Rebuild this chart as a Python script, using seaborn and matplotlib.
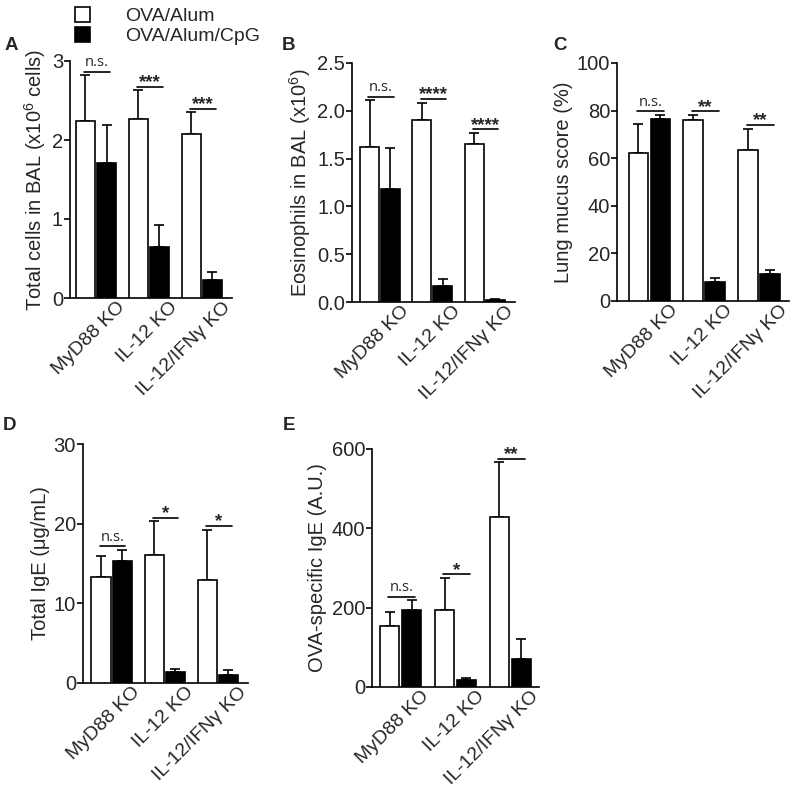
import matplotlib
matplotlib.use("Agg")
import matplotlib.pyplot as plt
import numpy as np
import pandas as pd
import seaborn as sns
from matplotlib.patches import Patch
from matplotlib.transforms import ScaledTranslation

genotypes = ["MyD88 KO", "IL-12 KO", "IL-12/IFN\u03b3 KO"]
treatments = ["OVA/Alum", "OVA/Alum/CpG"]

# means (white, black) and upper SEM per genotype
total_alum = [2.24, 2.26, 2.08]
total_alum_err = [0.58, 0.37, 0.27]
total_cpg = [1.71, 0.65, 0.23]
total_cpg_err = [0.48, 0.28, 0.10]

eos_alum = [1.625, 1.907, 1.656]
eos_alum_err = [0.485, 0.178, 0.112]
eos_cpg = [1.185, 0.171, 0.024]
eos_cpg_err = [0.422, 0.069, 0.006]

mucus_alum = [62.0, 76.2, 63.4]
mucus_alum_err = [12.3, 2.0, 9.0]
mucus_cpg = [76.5, 8.1, 11.3]
mucus_cpg_err = [1.8, 1.7, 1.8]

ige_alum = [13.26, 16.07, 12.89]
ige_alum_err = [2.64, 4.23, 6.36]
ige_cpg = [15.27, 1.34, 1.05]
ige_cpg_err = [1.47, 0.38, 0.62]

ova_alum = [154.6, 194.0, 428.0]
ova_alum_err = [33.4, 81.0, 138.0]
ova_cpg = [195.0, 17.6, 70.6]
ova_cpg_err = [24.0, 5.1, 50.4]

sig_total = ["n.s.", "***", "***"]
sig_eos = ["n.s.", "****", "****"]
sig_mucus = ["n.s.", "**", "**"]
sig_ige = ["n.s.", "*", "*"]
sig_ova = ["n.s.", "*", "**"]

panels = [
    ("A", total_alum, total_alum_err, total_cpg, total_cpg_err, sig_total,
     "Total cells in BAL (x10$^6$ cells)", [0, 1, 2, 3], "{:.0f}"),
    ("B", eos_alum, eos_alum_err, eos_cpg, eos_cpg_err, sig_eos,
     "Eosinophils in BAL (x10$^6$)", [0.0, 0.5, 1.0, 1.5, 2.0, 2.5], "{:.1f}"),
    ("C", mucus_alum, mucus_alum_err, mucus_cpg, mucus_cpg_err, sig_mucus,
     "Lung mucus score (%)", [0, 20, 40, 60, 80, 100], "{:.0f}"),
    ("D", ige_alum, ige_alum_err, ige_cpg, ige_cpg_err, sig_ige,
     "Total IgE (\u03bcg/mL)", [0, 10, 20, 30], "{:.0f}"),
    ("E", ova_alum, ova_alum_err, ova_cpg, ova_cpg_err, sig_ova,
     "OVA-specific IgE (A.U.)", [0, 200, 400, 600], "{:.0f}"),
]

# axes boxes in pixels: left, right, top, bottom ; xlim ; panel label position
W, H = 792, 789
layout = {
    "A": ((70, 232, 61, 298), (-0.49, 2.57), (5, 45)),
    "B": ((352, 515, 63, 302), (-0.535, 2.58), (282, 45)),
    "C": ((617, 789, 63, 301), (-0.59, 2.54), (553, 45)),
    "D": ((83, 248, 444, 683), (-0.54, 2.57), (3, 425)),
    "E": ((372, 539, 449, 687), (-0.52, 2.52), (283, 425)),
}

sns.set_theme(style="ticks")
plt.rcParams["font.family"] = ["Liberation Sans", "DejaVu Sans"]
plt.rcParams["mathtext.default"] = "regular"

fig = plt.figure(figsize=(W / 100, H / 100), dpi=100)

for label, alum, alum_err, cpg, cpg_err, sig, ylabel, yticks, fmt in panels:
    (l, r, t, b), xlim, (lx, ly) = layout[label]
    ax = fig.add_axes([l / W, 1 - b / H, (r - l) / W, (b - t) / H])

    df = pd.DataFrame({
        "genotype": genotypes * 2,
        "treatment": [treatments[0]] * 3 + [treatments[1]] * 3,
        "value": alum + cpg,
    })
    sns.barplot(data=df, x="genotype", y="value", hue="treatment",
                order=genotypes, hue_order=treatments,
                palette={treatments[0]: "white", treatments[1]: "black"},
                edgecolor="black", linewidth=1.2, width=0.8, gap=0.1,
                errorbar=None, legend=False, ax=ax, zorder=3)

    for container, vals, errs in zip(ax.containers, [alum, cpg], [alum_err, cpg_err]):
        for patch, v, e in zip(container.patches, vals, errs):
            xc = patch.get_x() + patch.get_width() / 2
            ax.errorbar(xc, v, yerr=[[0], [e]], fmt="none", ecolor="black",
                        elinewidth=1.2, capsize=3.6, capthick=1.2, zorder=2)

    ymax = yticks[-1]
    for i, s in enumerate(sig):
        top = max(alum[i] + alum_err[i], cpg[i] + cpg_err[i]) + 0.015 * ymax
        ax.plot([i - 0.22, i + 0.26], [top, top], color="black", lw=1.2,
                clip_on=False, zorder=4)
        if s == "n.s.":
            ax.text(i + 0.02, top + 0.006 * ymax, s, ha="center", va="bottom",
                    fontsize=10.5, family=["Open Sans", "DejaVu Sans"])
        else:
            ax.text(i + 0.02, top - 0.018 * ymax, s, ha="center", va="bottom",
                    fontsize=13.5, fontweight="bold")

    ax.set_xlim(*xlim)
    ax.set_ylim(0, ymax)
    ax.set_yticks(yticks)
    ax.set_yticklabels([fmt.format(v) for v in yticks], fontsize=14.5)
    ax.tick_params(axis="y", length=4, width=1.2, pad=1, color="black")
    ax.tick_params(axis="x", length=0, pad=2)
    ax.set_xticks(range(len(genotypes)))
    ax.set_xticklabels(genotypes, rotation=45, ha="right",
                       rotation_mode="anchor", fontsize=14)
    for tl in ax.get_xticklabels():
        tl.set_transform(tl.get_transform() + ScaledTranslation(0.2, 0.02, fig.dpi_scale_trans))
    ax.set_xlabel("")
    ax.set_ylabel(ylabel, fontsize=14.5, labelpad=3)
    for side in ["left", "bottom"]:
        ax.spines[side].set_color("black")
        ax.spines[side].set_linewidth(1.2)
    sns.despine(ax=ax)
    fig.text(lx / W, 1 - ly / H, label, fontsize=13.5, fontweight="bold",
             ha="left", va="center")

handles = [Patch(facecolor="white", edgecolor="black", linewidth=1.2),
           Patch(facecolor="black", edgecolor="black", linewidth=1.2)]
fig.legend(handles, treatments, loc="upper left", bbox_to_anchor=(67 / W, 1 + 1 / H),
           frameon=False, fontsize=14, handlelength=0.8, handleheight=0.8,
           handletextpad=1.8, labelspacing=0.1, borderaxespad=0)

fig.savefig("out.png", dpi=100)
